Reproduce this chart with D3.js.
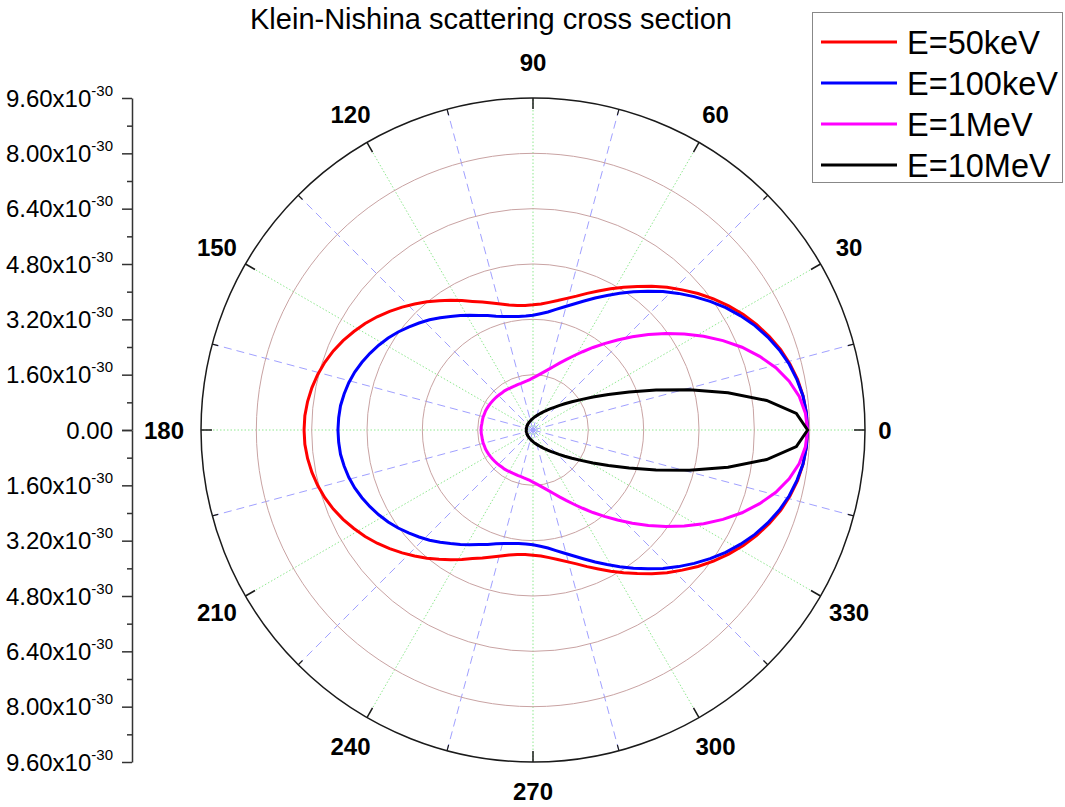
<!DOCTYPE html>
<html>
<head>
<meta charset="utf-8">
<script src="https://cdn.jsdelivr.net/npm/d3@7"></script>
<style>
  html, body { margin: 0; padding: 0; background: #fff; }
  svg { display: block; font-family: Arial, "Liberation Sans", sans-serif; }
</style>
</head>
<body>
<svg id="chart" width="1065" height="807"></svg>
<script>
// Scattering angle (degrees), sampled every 3.6 degrees around the full circle
const angleDeg = [0,3.6,7.2,10.8,14.4,18,21.6,25.2,28.8,32.4,36,39.6,43.2,46.8,50.4,54,57.6,61.2,64.8,68.4,72,75.6,79.2,82.8,86.4,90,93.6,97.2,100.8,104.4,108,111.6,115.2,118.8,122.4,126,129.6,133.2,136.8,140.4,144,147.6,151.2,154.8,158.4,162,165.6,169.2,172.8,176.4,180,183.6,187.2,190.8,194.4,198,201.6,205.2,208.8,212.4,216,219.6,223.2,226.8,230.4,234,237.6,241.2,244.8,248.4,252,255.6,259.2,262.8,266.4,270,273.6,277.2,280.8,284.4,288,291.6,295.2,298.8,302.4,306,309.6,313.2,316.8,320.4,324,327.6,331.2,334.8,338.4,342,345.6,349.2,352.8,356.4];

// Differential cross section dσ/dΩ in units of 1e-30 m^2/sr
const sigma50keV = [7.94,7.92,7.87,7.79,7.67,7.53,7.35,7.15,6.94,6.70,6.45,6.19,5.92,5.66,5.39,5.13,4.89,4.66,4.44,4.25,4.07,3.93,3.81,3.72,3.65,3.62,3.61,3.63,3.68,3.76,3.86,3.98,4.11,4.27,4.44,4.62,4.81,5.00,5.19,5.38,5.57,5.75,5.91,6.07,6.21,6.33,6.43,6.51,6.57,6.61,6.62,6.61,6.57,6.51,6.43,6.33,6.21,6.07,5.91,5.75,5.57,5.38,5.19,5.00,4.81,4.62,4.44,4.27,4.11,3.98,3.86,3.76,3.68,3.63,3.61,3.62,3.65,3.72,3.81,3.93,4.07,4.25,4.44,4.66,4.89,5.13,5.39,5.66,5.92,6.19,6.45,6.70,6.94,7.15,7.35,7.53,7.67,7.79,7.87,7.92];

const sigma100keV = [7.94,7.92,7.87,7.77,7.65,7.49,7.30,7.09,6.85,6.60,6.33,6.05,5.77,5.49,5.21,4.94,4.68,4.44,4.22,4.01,3.83,3.68,3.55,3.44,3.37,3.32,3.30,3.31,3.34,3.39,3.46,3.56,3.66,3.79,3.92,4.06,4.21,4.37,4.52,4.67,4.82,4.96,5.09,5.21,5.32,5.42,5.50,5.56,5.61,5.63,5.64,5.63,5.61,5.56,5.50,5.42,5.32,5.21,5.09,4.96,4.82,4.67,4.52,4.37,4.21,4.06,3.92,3.79,3.66,3.56,3.46,3.39,3.34,3.31,3.30,3.32,3.37,3.44,3.55,3.68,3.83,4.01,4.22,4.44,4.68,4.94,5.21,5.49,5.77,6.05,6.33,6.60,6.85,7.09,7.30,7.49,7.65,7.77,7.87,7.92];

const sigma1MeV = [7.94,7.89,7.76,7.54,7.25,6.89,6.50,6.07,5.63,5.18,4.75,4.33,3.94,3.57,3.24,2.95,2.68,2.45,2.25,2.08,1.93,1.81,1.71,1.63,1.56,1.51,1.46,1.43,1.41,1.39,1.39,1.38,1.38,1.38,1.39,1.40,1.40,1.41,1.42,1.43,1.44,1.45,1.46,1.47,1.48,1.48,1.49,1.49,1.49,1.50,1.50,1.50,1.49,1.49,1.49,1.48,1.48,1.47,1.46,1.45,1.44,1.43,1.42,1.41,1.40,1.40,1.39,1.38,1.38,1.38,1.39,1.39,1.41,1.43,1.46,1.51,1.56,1.63,1.71,1.81,1.93,2.08,2.25,2.45,2.68,2.95,3.24,3.57,3.94,4.33,4.75,5.18,5.63,6.07,6.50,6.89,7.25,7.54,7.76,7.89];

const sigma10MeV = [7.94,7.63,6.81,5.74,4.67,3.74,2.99,2.41,1.98,1.64,1.39,1.19,1.03,0.90,0.80,0.72,0.65,0.59,0.54,0.50,0.46,0.43,0.40,0.38,0.36,0.34,0.32,0.31,0.29,0.28,0.27,0.26,0.25,0.25,0.24,0.23,0.23,0.22,0.22,0.21,0.21,0.21,0.20,0.20,0.20,0.20,0.20,0.20,0.19,0.19,0.19,0.19,0.19,0.20,0.20,0.20,0.20,0.20,0.20,0.21,0.21,0.21,0.22,0.22,0.23,0.23,0.24,0.25,0.25,0.26,0.27,0.28,0.29,0.31,0.32,0.34,0.36,0.38,0.40,0.43,0.46,0.50,0.54,0.59,0.65,0.72,0.80,0.90,1.03,1.19,1.39,1.64,1.98,2.41,2.99,3.74,4.67,5.74,6.81,7.63];

const seriesNames = ["E=50keV", "E=100keV", "E=1MeV", "E=10MeV"];
const seriesColors = ["#ff0000", "#0000ff", "#ff00ff", "#000000"];
const seriesValues = [sigma50keV, sigma100keV, sigma1MeV, sigma10MeV];

// Radial axis ticks (1e-30) and angular tick positions (degrees)
const radialMajor = [1.6, 3.2, 4.8, 6.4, 8.0, 9.6];
const radialMinor = [0.8, 2.4, 4.0, 5.6, 7.2, 8.8];
const angleMajor = [0, 30, 60, 90, 120, 150, 180, 210, 240, 270, 300, 330];
const angleMinor = [15, 45, 75, 105, 135, 165, 195, 225, 255, 285, 315, 345];
const titleText = "Klein-Nishina scattering cross section";

const svg = d3.select("#chart");
const cx = 533, cy = 430, R = 332;
const rScale = d3.scaleLinear().domain([0, 9.6]).range([0, R]);
const toRad = d => d * Math.PI / 180;
const px = (deg, r) => cx + r * Math.cos(toRad(deg));
const py = (deg, r) => cy - r * Math.sin(toRad(deg));

const plot = svg.append("g");

// angular grid: dotted green at major angles, dashed blue at minor angles
plot.selectAll("line.grid-major").data(angleMajor).join("line")
  .attr("class", "grid-major")
  .attr("x1", cx).attr("y1", cy)
  .attr("x2", d => px(d, R)).attr("y2", d => py(d, R))
  .attr("stroke", "#8fe88f").attr("stroke-width", 1)
  .attr("stroke-dasharray", "1.5,2");
plot.selectAll("line.grid-minor").data(angleMinor).join("line")
  .attr("class", "grid-minor")
  .attr("x1", cx).attr("y1", cy)
  .attr("x2", d => px(d, R)).attr("y2", d => py(d, R))
  .attr("stroke", "#a0a0ff").attr("stroke-width", 1)
  .attr("stroke-dasharray", "8,5");

// radial grid circles
plot.selectAll("circle.grid").data(radialMajor.filter(v => v < 9.6)).join("circle")
  .attr("class", "grid")
  .attr("cx", cx).attr("cy", cy).attr("r", d => rScale(d))
  .attr("fill", "none").attr("stroke", "#c9a3a3").attr("stroke-width", 1);

// outer boundary with inward ticks
plot.append("circle").attr("cx", cx).attr("cy", cy).attr("r", R)
  .attr("fill", "none").attr("stroke", "#1a1a1a").attr("stroke-width", 1.5);
plot.selectAll("line.tick-major").data(angleMajor).join("line")
  .attr("class", "tick-major")
  .attr("x1", d => px(d, R)).attr("y1", d => py(d, R))
  .attr("x2", d => px(d, R - 11)).attr("y2", d => py(d, R - 11))
  .attr("stroke", "#1a1a1a").attr("stroke-width", 1.5);
plot.selectAll("line.tick-minor").data(angleMinor).join("line")
  .attr("class", "tick-minor")
  .attr("x1", d => px(d, R)).attr("y1", d => py(d, R))
  .attr("x2", d => px(d, R - 6)).attr("y2", d => py(d, R - 6))
  .attr("stroke", "#1a1a1a").attr("stroke-width", 1.2);

// curves
const radial = d3.lineRadial()
  .angle(d => Math.PI / 2 - toRad(d[0]))
  .radius(d => rScale(d[1]))
  .curve(d3.curveLinearClosed);
const curves = plot.append("g").attr("transform", `translate(${cx},${cy})`);
seriesValues.forEach((vals, i) => {
  curves.append("path")
    .datum(angleDeg.map((a, j) => [a, vals[j]]))
    .attr("d", radial)
    .attr("fill", "none")
    .attr("stroke", seriesColors[i])
    .attr("stroke-width", 3)
    .attr("stroke-linejoin", "miter");
});

// angle labels around the rim
const angLabels = svg.append("g").attr("font-weight", "bold").attr("font-size", 24).attr("fill", "#000");
angleMajor.forEach(a => {
  const adj = a === 0 ? -13 : (a === 180 ? 4 : (a === 90 ? 3 : (a === 270 ? -4 : 0)));
  const off = 33 + adj;
  angLabels.append("text").attr("text-anchor", "middle")
    .attr("x", px(a, R + off)).attr("y", py(a, R + off) + 8.6)
    .text(a);
});

// radial scale drawn as a vertical axis on the left
const axisX = 132;
const yUp = d3.scaleLinear().domain([0, 9.6]).range([cy, cy - R]);
const yDown = d3.scaleLinear().domain([0, 9.6]).range([cy, cy + R]);
[yUp, yDown].forEach(sc => {
  const g = svg.append("g").attr("transform", `translate(${axisX},0)`);
  g.call(d3.axisLeft(sc).tickValues([0, ...radialMajor]).tickSize(10).tickSizeOuter(0).tickFormat(""));
  g.append("g").call(d3.axisLeft(sc).tickValues(radialMinor).tickSize(5).tickSizeOuter(0).tickFormat(""))
    .select(".domain").remove();
  g.selectAll("path, line").attr("stroke", "#333").attr("stroke-width", 1.5);
  const labels = g.append("g").attr("font-size", 24).attr("fill", "#000").attr("text-anchor", "end");
  radialMajor.forEach(v => {
    const t = labels.append("text").attr("x", -19).attr("y", sc(v) + 8.5);
    t.append("tspan").text(v.toFixed(2) + "x10");
    t.append("tspan").attr("font-size", 15).attr("dy", -11).text("-30");
  });
});
svg.append("text").attr("x", axisX - 19).attr("y", cy + 8.5)
  .attr("text-anchor", "end").attr("font-size", 24).text("0.00");

// title
svg.append("text").attr("x", 491).attr("y", 29).attr("text-anchor", "middle")
  .attr("font-size", 29).attr("fill", "#000").text(titleText);

// legend
const lg = svg.append("g");
lg.append("rect").attr("x", 812.5).attr("y", 12.5).attr("width", 250).attr("height", 170)
  .attr("fill", "#fff").attr("stroke", "#888").attr("stroke-width", 1);
seriesNames.forEach((name, i) => {
  const y = 42 + i * 41;
  lg.append("line").attr("x1", 821).attr("x2", 897).attr("y1", y).attr("y2", y)
    .attr("stroke", seriesColors[i]).attr("stroke-width", 3);
  lg.append("text").attr("x", 907).attr("y", y + 11.5).attr("font-size", 32.5).attr("fill", "#000").text(name);
});
</script>
</body>
</html>
